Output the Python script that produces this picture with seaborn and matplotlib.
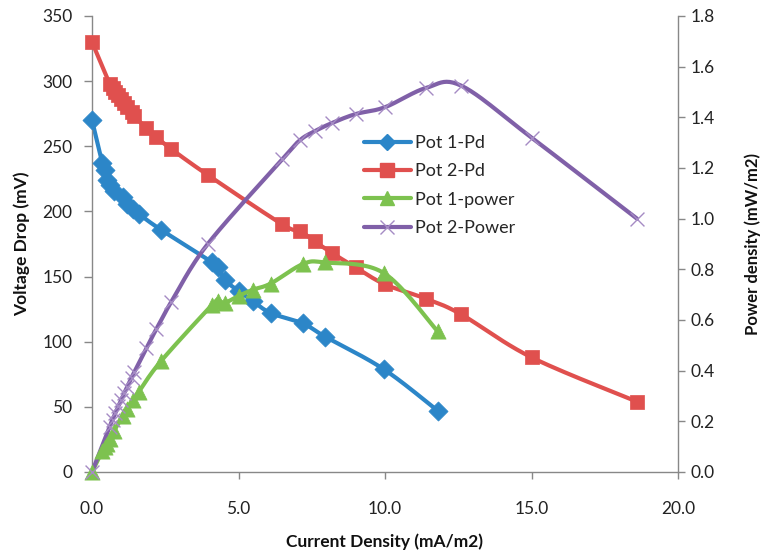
import numpy as np
import matplotlib
matplotlib.use("Agg")
import matplotlib.pyplot as plt
import seaborn as sns
from matplotlib.lines import Line2D
from matplotlib.ticker import FormatStrFormatter

# ---------------- data ----------------
pot1_current = [0.0, 0.35, 0.43, 0.5, 0.6, 0.75, 1.05, 1.2, 1.4, 1.6, 2.35,
                4.1, 4.3, 4.55, 5.0, 5.5, 6.1, 7.2, 7.95, 9.95, 11.8]
pot1_voltage = [270, 237, 232, 224, 220, 216, 211, 206, 202, 198, 186,
                161, 157, 147, 139, 131, 122, 114, 104, 79, 47]
pot1_power = [0.0, 0.083, 0.10, 0.112, 0.132, 0.162, 0.222, 0.247, 0.283, 0.317, 0.437,
              0.66, 0.675, 0.669, 0.695, 0.72, 0.744, 0.821, 0.827, 0.786, 0.555]

pot2_current = [0.0, 0.6, 0.7, 0.8, 0.9, 1.0, 1.1, 1.2, 1.35, 1.45, 1.85, 2.2, 2.7,
                3.95, 6.5, 7.1, 7.6, 8.2, 9.0, 10.0, 11.4, 12.6, 15.0, 18.6]
pot2_voltage = [330, 298, 295, 292, 289, 286, 283, 280, 276, 273, 264, 257, 248,
                228, 190, 185, 177, 168, 157, 144, 133, 121, 88, 54]
pot2_power = [0.0, 0.179, 0.207, 0.234, 0.26, 0.286, 0.311, 0.336, 0.373, 0.396, 0.488,
              0.565, 0.67, 0.90, 1.235, 1.31, 1.345, 1.378, 1.413, 1.44, 1.516, 1.525,
              1.32, 1.0]

series_names = ["Pot 1-Pd", "Pot 2-Pd", "Pot 1-power", "Pot 2-Power"]
x_ticks = [0, 5, 10, 15, 20]
y_left_ticks = [0, 50, 100, 150, 200, 250, 300, 350]
y_right_ticks = [0.0, 0.2, 0.4, 0.6, 0.8, 1.0, 1.2, 1.4, 1.6, 1.8]

# ---------------- style ----------------
sns.set_style("white")
plt.rcParams['font.family'] = ['Lato', 'DejaVu Sans']

BLUE = "#2C86C8"
RED = "#E0504E"
GREEN = "#7DC24F"
PURPLE = "#8060A8"
PURPLE_MK = "#A58BC4"
AXIS = "#888888"


def smooth(x, y, n=24):
    """Excel-like smoothed line (Catmull-Rom Bezier through the points)."""
    P = np.column_stack([np.asarray(x, float), np.asarray(y, float)])
    out = [P[0]]
    t = np.linspace(0, 1, n)[1:, None]
    for i in range(len(P) - 1):
        p0 = P[i - 1] if i > 0 else P[i]
        p1, p2 = P[i], P[i + 1]
        p3 = P[i + 2] if i + 2 < len(P) else P[i + 1]
        c1 = p1 + (p2 - p0) / 6.0
        c2 = p2 - (p3 - p1) / 6.0
        seg = ((1 - t) ** 3) * p1 + 3 * ((1 - t) ** 2) * t * c1 + 3 * (1 - t) * t ** 2 * c2 + t ** 3 * p2
        out.extend(seg)
    out = np.array(out)
    return out[:, 0], out[:, 1]


fig = plt.figure(figsize=(7.64, 5.55), dpi=100)
ax = fig.add_axes([92 / 764, 1 - 472 / 555, 586 / 764, 456 / 555])
ax2 = ax.twinx()

LW = 3.0

# primary axis series
sx, sy = smooth(pot1_current, pot1_voltage)
sns.lineplot(x=sx, y=sy, ax=ax, color=BLUE, lw=LW, sort=False, estimator=None)
sns.scatterplot(x=pot1_current, y=pot1_voltage, ax=ax, marker="D", s=95, color=BLUE,
                edgecolor=BLUE, linewidth=0.5, zorder=3, clip_on=False)
sx, sy = smooth(pot2_current, pot2_voltage)
sns.lineplot(x=sx, y=sy, ax=ax, color=RED, lw=LW, sort=False, estimator=None)
sns.scatterplot(x=pot2_current, y=pot2_voltage, ax=ax, marker="s", s=105, color=RED,
                edgecolor=RED, linewidth=0.5, zorder=3, clip_on=False)

# secondary axis series
sx, sy = smooth(pot1_current, pot1_power)
sns.lineplot(x=sx, y=sy, ax=ax2, color=GREEN, lw=LW, sort=False, estimator=None)
sns.scatterplot(x=pot1_current, y=pot1_power, ax=ax2, marker="^", s=120, color=GREEN,
                edgecolor=GREEN, linewidth=0.5, zorder=3, clip_on=False)
sx, sy = smooth(pot2_current, pot2_power)
sns.lineplot(x=sx, y=sy, ax=ax2, color=PURPLE, lw=LW, sort=False, estimator=None)
ax2.scatter(pot2_current, pot2_power, marker="x", s=100, color=PURPLE_MK,
            linewidths=1.0, zorder=3, clip_on=False)

# axes limits / ticks
ax.set_xlim(0, 20)
ax.set_ylim(0, 350)
ax2.set_ylim(0, 1.8)
ax.set_xticks(x_ticks)
ax.set_yticks(y_left_ticks)
ax2.set_yticks(y_right_ticks)
ax.xaxis.set_major_formatter(FormatStrFormatter("%.1f"))
ax2.yaxis.set_major_formatter(FormatStrFormatter("%.1f"))

for a in (ax, ax2):
    a.grid(False)
    for s in a.spines.values():
        s.set_color(AXIS)
        s.set_linewidth(1.0)
ax.spines["top"].set_visible(False)
ax.spines["right"].set_visible(False)
ax2.spines["top"].set_visible(False)
ax2.spines["left"].set_visible(False)
ax2.spines["bottom"].set_visible(False)

ax.tick_params(axis="x", direction="out", length=5, width=1, color=AXIS, pad=16,
               labelsize=12.5, labelcolor="#222222", bottom=True)
ax.tick_params(axis="y", direction="out", length=6, width=1, color=AXIS, pad=8,
               labelsize=12.5, labelcolor="#222222", left=True)
ax2.tick_params(axis="y", direction="out", length=5, width=1, color=AXIS, pad=4,
                labelsize=12.5, labelcolor="#222222", right=True)

ax.set_xlabel("Current Density (mA/m2)", fontsize=12.5, fontweight="bold", color="#111111")
ax.set_ylabel("Voltage Drop (mV)", fontsize=12.5, fontweight="bold", color="#111111")
ax2.set_ylabel("Power density (mW/m2)", fontsize=12, fontweight="bold", color="#111111")
ax.xaxis.set_label_coords(0.5, -0.135)
ax.yaxis.set_label_coords(-0.105, 0.5)
ax2.yaxis.set_label_coords(1.114, 0.5)

# legend
handles = [
    Line2D([], [], color=BLUE, lw=LW, marker="D", markersize=8),
    Line2D([], [], color=RED, lw=LW, marker="s", markersize=9.5),
    Line2D([], [], color=GREEN, lw=LW, marker="^", markersize=10),
    Line2D([], [], color=PURPLE, lw=LW, marker="x", markersize=10,
           markeredgecolor=PURPLE_MK, markeredgewidth=1.0),
]
fig.legend(handles, series_names, loc="upper left",
           bbox_to_anchor=(364 / 764, 1 - 135 / 555), frameon=False,
           fontsize=13, handlelength=2.6, handletextpad=0.25, labelspacing=0.68,
           borderaxespad=0, borderpad=0)

fig.savefig("out.png", dpi=100)
